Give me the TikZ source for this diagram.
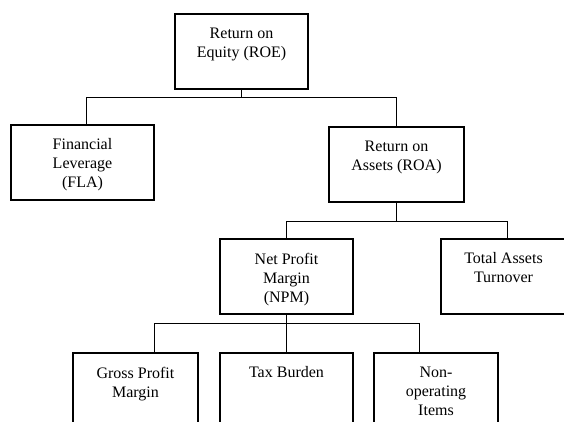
\documentclass[tikz,border=0pt]{standalone}
\usepackage{fontspec}
\setmainfont{Liberation Serif}
\newcommand{\cell}[2]{\parbox[t][47pt][t]{#1}{\centering #2}}

\begin{document}
\begin{tikzpicture}[x=1pt,y=-1pt,
box/.style={draw,line width=1.5pt,inner xsep=0pt,inner ysep=14pt,anchor=north,font=\fontsize{16}{19}\selectfont},
link/.style={line width=1pt}]
\clip (0,0) rectangle (564,421);
\node[box] (roe) at (241.5,13) {\cell{133pt}{Return on\\Equity (ROE)}};
\node[box] (fla) at (82.5,124) {\cell{143pt}{Financial\\Leverage\\(FLA)}};
\node[box] (roa) at (396.5,126) {\cell{135pt}{Return on\\Assets (ROA)}};
\node[box] (npm) at (286.5,238) {\cell{133pt}{Net Profit\\Margin\\(NPM)}};
\node[box] (tat) at (503.5,238) {\cell{125pt}{Total Assets\\Turnover}};
\node[box] (gpm) at (135.5,352) {\cell{125pt}{Gross Profit\\Margin}};
\node[box] (tax) at (286.5,352) {\cell{133pt}{Tax Burden}};
\node[box] (non) at (436,352) {\cell{124pt}{Non-\\operating\\Items}};
% tree links
\draw[link] (roe.south) -- ++(0,8) coordinate (b1) -| (roa.north)
  (b1) -| ([xshift=3.5pt]fla.north);
\draw[link] (roa.south) -- ++(0,19) coordinate (b2) -| (npm.north)
  (b2) -| ([xshift=3.5pt]tat.north);
\draw[link] (npm.south) -- ++(0,9) coordinate (b3) -| ([xshift=18.5pt]gpm.north)
  (b3) -- (tax.north)
  (b3) -| ([xshift=-17pt]non.north);
\end{tikzpicture}
\end{document}
